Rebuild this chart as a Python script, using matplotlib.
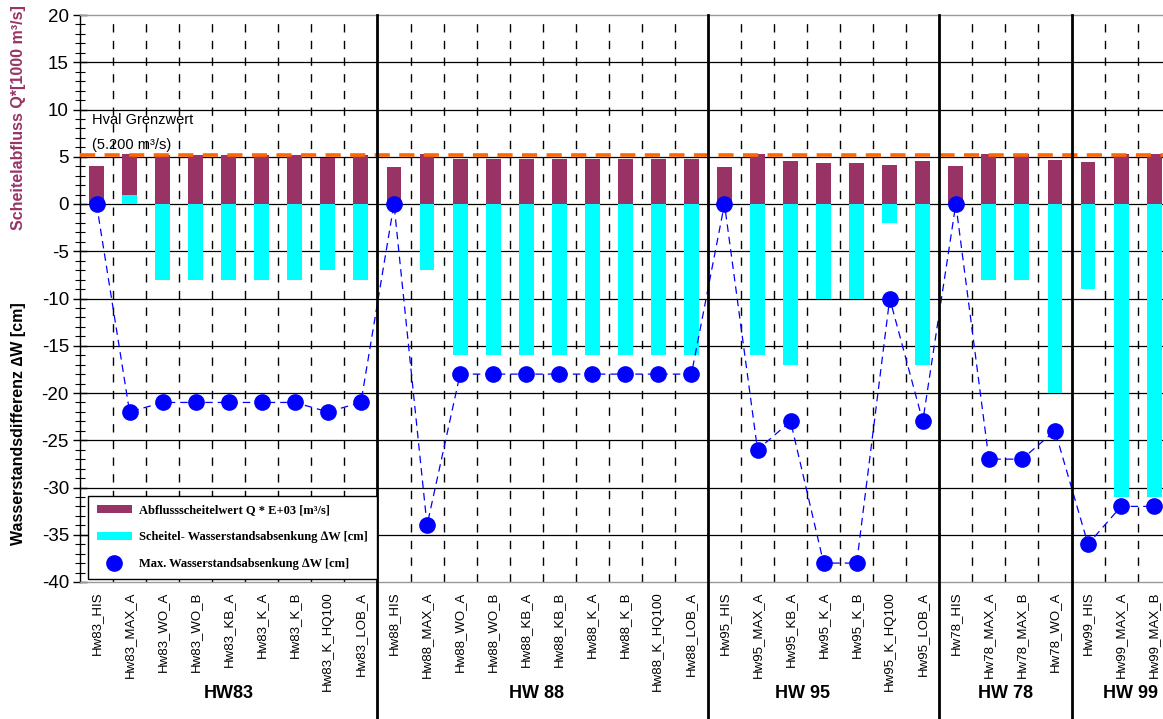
import numpy as np
import matplotlib
matplotlib.use("Agg")
import matplotlib.pyplot as plt
import matplotlib.transforms as mtransforms
from matplotlib.patches import Patch
from matplotlib.lines import Line2D

plt.rcParams.update({
    "font.family": ["Liberation Sans", "DejaVu Sans"],
    "axes.linewidth": 1.0,
    "axes.unicode_minus": False,
})

PURPLE = "#993366"
CYAN   = "#00ffff"
BLUE   = "#0000ff"
ORANGE = "#ff6600"

# ─── Daten ───────────────────────────────────────────────────────────────────
groups = ["HW83", "HW 88", "HW 95", "HW 78", "HW 99"]

labels_hw83 = ["Hw83_HIS", "Hw83_MAX_A", "Hw83_WO_A", "Hw83_WO_B", "Hw83_KB_A",
               "Hw83_K_A", "Hw83_K_B", "Hw83_K_HQ100", "Hw83_LOB_A"]
labels_hw88 = ["Hw88_HIS", "Hw88_MAX_A", "Hw88_WO_A", "Hw88_WO_B", "Hw88_KB_A",
               "Hw88_KB_B", "Hw88_K_A", "Hw88_K_B", "Hw88_K_HQ100", "Hw88_LOB_A"]
labels_hw95 = ["Hw95_HIS", "Hw95_MAX_A", "Hw95_KB_A", "Hw95_K_A", "Hw95_K_B",
               "Hw95_K_HQ100", "Hw95_LOB_A"]
labels_hw78 = ["Hw78_HIS", "Hw78_MAX_A", "Hw78_MAX_B", "Hw78_WO_A"]
labels_hw99 = ["Hw99_HIS", "Hw99_MAX_A", "Hw99_MAX_B"]

# Abflussscheitelwert Q [1000 m³/s]
q_hw83 = [4.05, 5.25, 5.2, 5.2, 5.2, 5.2, 5.2, 4.9, 5.2]
q_hw88 = [3.95, 5.25, 4.75, 4.75, 4.75, 4.75, 4.75, 4.75, 4.75, 4.75]
q_hw95 = [3.9, 5.25, 4.6, 4.3, 4.3, 4.1, 4.6]
q_hw78 = [4.0, 5.25, 5.25, 4.7]
q_hw99 = [4.4, 5.25, 5.25]

# Scheitel-Wasserstandsabsenkung dW [cm]
dw_hw83 = [0, 1, -8, -8, -8, -8, -8, -7, -8]
dw_hw88 = [0, -7, -16, -16, -16, -16, -16, -16, -16, -16]
dw_hw95 = [0, -16, -17, -10, -10, -2, -17]
dw_hw78 = [0, -8, -8, -20]
dw_hw99 = [-9, -31, -31]

# Max. Wasserstandsabsenkung dW [cm]
mx_hw83 = [0, -22, -21, -21, -21, -21, -21, -22, -21]
mx_hw88 = [0, -34, -18, -18, -18, -18, -18, -18, -18, -18]
mx_hw95 = [0, -26, -23, -38, -38, -10, -23]
mx_hw78 = [0, -27, -27, -24]
mx_hw99 = [-36, -32, -32]

grenzwert = 5.2

labels = labels_hw83 + labels_hw88 + labels_hw95 + labels_hw78 + labels_hw99
q  = q_hw83 + q_hw88 + q_hw95 + q_hw78 + q_hw99
dw = dw_hw83 + dw_hw88 + dw_hw95 + dw_hw78 + dw_hw99
mx = mx_hw83 + mx_hw88 + mx_hw95 + mx_hw78 + mx_hw99
sizes = [len(labels_hw83), len(labels_hw88), len(labels_hw95),
         len(labels_hw78), len(labels_hw99)]

x = np.arange(len(labels))
n = len(labels)

# ─── Figure ──────────────────────────────────────────────────────────────────
W, H = 1163, 719
fig = plt.figure(figsize=(W / 100, H / 100), dpi=100)
cw = 33.05
ax = fig.add_axes([80 / W, 1 - 582 / H, n * cw / W, 567 / H])
ax.set_xlim(-0.5, n - 0.5)
ax.set_ylim(-40, 20)

# Gitter
for yv in range(-35, 20, 5):
    ax.axhline(yv, color="black", lw=0.9, zorder=1)

bounds = np.cumsum(sizes)[:-1]
for b in range(1, n):
    if b in bounds:
        continue
    ax.axvline(b - 0.5, color="black", lw=1.0, ls=(0, (6, 6)), zorder=1)

# Balken
ax.bar(x, q, width=0.45, color=PURPLE, zorder=2)
ax.bar(x, dw, width=0.45, color=CYAN, zorder=3)

# Grenzwert
ax.axhline(grenzwert, color=ORANGE, lw=2.6, ls=(0, (4.2, 2.6)), zorder=4)
ax.text(-0.15, 8.85, "Hval Grenzwert", fontsize=10.5,
        va="center", ha="left", zorder=6)
ax.text(-0.15, 6.25, "(5.200 m³/s)", fontsize=10.5,
        va="center", ha="left", zorder=6)

# Max. Absenkung
ax.plot(x, mx, color=BLUE, lw=0.9, ls=(0, (6, 4)), marker="o", ms=11,
        markerfacecolor=BLUE, markeredgecolor=BLUE, zorder=5)

# Gruppentrennung bis zum unteren Bildrand
ax_h = 567 / H
for b in bounds:
    ax.axvline(b - 0.5, ymin=-(1 - 582 / H) / ax_h, ymax=1,
               color="black", lw=2.0, clip_on=False, zorder=6)

# Achsen
ax.set_yticks(range(-40, 21, 5))
ax.set_yticks(range(-40, 21, 1), minor=True)
ax.tick_params(axis="y", which="major", direction="inout", length=10,
               width=1, labelsize=13.5, pad=3)
ax.tick_params(axis="y", which="minor", direction="inout", length=7, width=0.8)
ax.set_xticks(x)
ax.set_xticklabels(labels, rotation=90, fontsize=9.5)
ax.tick_params(axis="x", length=0, pad=7)
ax.spines["top"].set_color("#999999")
ax.spines["bottom"].set_color("#999999")
ax.spines["right"].set_visible(False)

fig.text(19 / W, 1 - 118 / H, "Scheitelabfluss Q*[1000 m³/s]", rotation=90,
         color=PURPLE, fontsize=11.5, fontweight="bold", ha="center", va="center")
fig.text(19 / W, 1 - 424 / H, "Wasserstandsdifferenz \u2206W [cm]", rotation=90,
         color="black", fontsize=11.5, fontweight="bold", ha="center", va="center")

# Gruppennamen
trans = mtransforms.blended_transform_factory(ax.transData, fig.transFigure)
group_pos = [4.0, 13.3, 21.35, 27.5, 31.3]
for name, gx in zip(groups, group_pos):
    ax.text(gx, 1 - 694 / H, name, transform=trans, fontsize=13,
            fontweight="bold", ha="center", va="center")

# Legende
handles = [
    Patch(facecolor=PURPLE, edgecolor="none"),
    Patch(facecolor=CYAN, edgecolor="none"),
    Line2D([], [], ls="none", marker="o", ms=11, color=BLUE),
]
names = ["Abflussscheitelwert Q * E+03 [m³/s]",
         "Scheitel- Wasserstandsabsenkung \u2206W [cm]",
         "Max. Wasserstandsabsenkung \u2206W [cm]"]
leg = ax.legend(handles, names, loc="lower left",
                bbox_to_anchor=(88 / W, 1 - 579 / H), bbox_transform=fig.transFigure,
                borderaxespad=0, fancybox=False, framealpha=1, edgecolor="black",
                prop={"family": "Liberation Serif", "size": 9, "weight": "bold"},
                handlelength=2.8, handleheight=0.6, labelspacing=1.2,
                borderpad=0.7, handletextpad=0.6)
leg.get_frame().set_linewidth(1.0)
leg.set_zorder(10)

fig.savefig("out.png", dpi=100)
